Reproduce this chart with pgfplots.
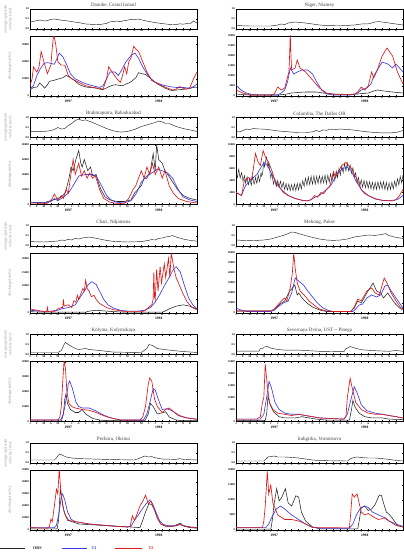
\documentclass[border=0pt]{standalone}
\usepackage{pgfplots}
\pgfplotsset{compat=1.18}
\usepackage{fontspec}
\setmainfont{Liberation Serif}
\definecolor{tobs}{RGB}{35,35,35}
\definecolor{tblue}{RGB}{60,60,230}
\definecolor{tred}{RGB}{220,25,25}
\definecolor{lab}{RGB}{150,150,150}
\pgfplotsset{
  base/.style={scale only axis, width=167pt, xmin=0, xmax=24, anchor=north west,
    axis line style={line width=0.6pt}, tick style={line width=0.35pt, black},
    major tick length=1.3pt, tick align=inside,
    xtick={0,...,23}, xticklabels={J,F,M,A,M,J,J,A,S,O,N,D,J,F,M,A,M,J,J,A,S,O,N,D},
    ticklabel style={font=\fontsize{2.8}{3}\selectfont\bfseries, inner sep=0.8pt},
    /pgf/number format/assume math mode=true,
    title style={font=\fontsize{5}{6}\selectfont, text=black!75, inner sep=1.5pt, yshift=-6pt},
    clip mode=individual},
  vel/.style={base, height=20pt, ymin=0, ymax=1, ytick={0,0.5,1}, yticklabels={0.0,0.5,1.0}},
  dis/.style={base, height=60pt, ymin=0, scaled y ticks=false,
    yticklabel style={/pgf/number format/.cd, fixed, 1000 sep={}},
    extra x ticks={5.5,18.5}, extra x tick labels={1997,1998},
    extra x tick style={major tick length=0pt, ticklabel style={yshift=-3.2pt, font=\fontsize{3.6}{4}\selectfont\bfseries}}},
  vlab/.style={ylabel={average upstream\\velocity (m/s)}, ylabel style={at={(axis description cs:-0.13,0.5)}, anchor=center, align=center, font=\fontsize{4}{4.6}\selectfont, text=lab}},
  dlab/.style={ylabel={discharge (m3/s)}, ylabel style={at={(axis description cs:-0.12,0.5)}, anchor=center, font=\fontsize{4}{4.6}\selectfont, text=lab}},
  obs/.style={tobs, line width=0.55pt, no marks},
  tone/.style={tblue, line width=0.65pt, no marks},
  ttwo/.style={tred, line width=0.65pt, no marks},
  vline/.style={tobs, line width=0.45pt, no marks},
}
\begin{document}
\begin{tikzpicture}
\path[use as bounding box] (0pt,0pt) rectangle (404pt,-554pt);

% ===== Row 1 left: Danube
\begin{axis}[vel, vlab, at={(30pt,-9pt)}, title={Danube, Ceatal Izmail}]
\addplot[vline] coordinates {(0,0.35)(0.5,0.38)(1,0.42)(1.5,0.45)(2,0.4)(2.5,0.42)(3,0.48)(3.5,0.5)(4,0.47)(4.5,0.44)(5,0.42)(5.5,0.4)(6,0.37)(7,0.32)(8,0.25)(9,0.23)(10,0.22)(11,0.28)(11.5,0.36)(12,0.37)(12.5,0.4)(13,0.36)(13.5,0.42)(14,0.44)(14.5,0.48)(15,0.46)(15.5,0.5)(16,0.46)(16.5,0.42)(17,0.38)(18,0.32)(19,0.27)(20,0.23)(21,0.22)(21.5,0.26)(22,0.24)(22.5,0.27)(23,0.26)(23.5,0.4)(24,0.3)};
\end{axis}
\begin{axis}[dis, dlab, at={(30pt,-36pt)}, ymax=35000, ytick={0,10000,20000,30000}]
\addplot[obs] coordinates {(0,3600)(0.5,5000)(1,5200)(1.4,7600)(1.8,6000)(2.1,4600)(2.5,6500)(2.8,8600)(3.3,9000)(3.8,9600)(4.3,10200)(4.7,10600)(5.2,12000)(5.7,11000)(6.2,9600)(6.7,8000)(7.1,6600)(7.6,5800)(8.1,5200)(8.8,4900)(9.5,4600)(10.4,3600)(10.9,4500)(11.4,5600)(11.9,6300)(12.3,6600)(12.8,6200)(13.3,6000)(13.8,7000)(14.2,7600)(14.6,8600)(15.2,10600)(15.6,13600)(16.1,13000)(16.6,12600)(17.1,11000)(17.5,9600)(18,8000)(18.5,6600)(19,5500)(19.4,4600)(19.9,3800)(20.4,3200)(21.3,3600)(22.3,4000)(23,4500)(23.7,5200)(24,5000)};
\addplot[tone] coordinates {(0,4000)(0.5,6000)(1,12000)(1.5,16000)(2,19000)(2.5,19500)(3,19000)(3.5,18500)(3.9,22000)(4.2,25000)(4.7,23000)(5.3,18000)(5.8,13000)(6.5,10000)(7.5,8000)(8.5,6500)(9.5,5500)(10,5000)(10.5,6000)(11,10000)(11.5,14000)(12.2,14000)(12.7,12000)(13,14000)(13.8,20000)(14.6,24000)(15.1,25000)(15.6,22000)(16.2,17000)(16.8,13000)(17.4,10000)(18,8000)(19,6500)(20,5500)(21,5000)(22,5000)(23,4500)(23.5,5500)(24,7000)};
\addplot[ttwo] coordinates {(0,6000)(0.3,10000)(0.5,17000)(0.8,15000)(1,14000)(1.3,17000)(1.6,26000)(2,20000)(2.5,13000)(3,18000)(3.2,28000)(3.4,36000)(3.7,30000)(4,20000)(4.5,18000)(5,18000)(5.5,12000)(6,10000)(7,8000)(8,6000)(9,5000)(10,4500)(10.5,4000)(11,10000)(11.3,17000)(11.8,14000)(12.5,10000)(13,8000)(13.3,12000)(13.6,17000)(13.9,13000)(14.2,20000)(14.5,22000)(14.9,29000)(15.3,27000)(15.6,26000)(16.2,20000)(16.8,14000)(17.5,9000)(18.5,7000)(19.5,5000)(20.5,3500)(21,4000)(21.5,5500)(22,4500)(22.5,4000)(23,5000)(23.5,10000)(24,14000)};
\end{axis}

% ===== Row 1 right: Niger
\begin{axis}[vel, at={(236pt,-9pt)}, title={Niger, Niamey}]
\addplot[vline] coordinates {(0,0.18)(1,0.16)(2,0.15)(5,0.15)(6,0.2)(6.5,0.25)(7,0.22)(7.5,0.3)(8,0.33)(8.5,0.35)(9,0.33)(10,0.3)(11,0.25)(12,0.2)(13,0.17)(15,0.16)(16,0.18)(17,0.2)(18,0.25)(19,0.26)(19.5,0.3)(20,0.35)(20.5,0.37)(21,0.35)(22,0.3)(23,0.25)(24,0.2)};
\end{axis}
\begin{axis}[dis, at={(236pt,-36pt)}, ymax=30000, ytick={0,5000,...,30000}]
\addplot[obs] coordinates {(0,1000)(1,700)(2,500)(6,500)(7,800)(8,1500)(9,1800)(10,2000)(11.5,2000)(12.5,1500)(14,1000)(16,800)(17.5,1000)(19,1500)(19.8,2500)(20.3,3000)(21,2600)(22,2200)(23,1800)(24,1500)};
\addplot[tone] coordinates {(0,5500)(0.7,3000)(1.5,1500)(2.5,600)(6,500)(6.5,1500)(7,3000)(7.4,7000)(7.8,14000)(8.3,11000)(8.8,12000)(9.5,13000)(10.3,13000)(11,11000)(11.6,7000)(12.3,3000)(13,1000)(14,500)(16.5,500)(17.5,1500)(18,3000)(18.8,4000)(19.4,6000)(19.8,10000)(20.5,14000)(21,17000)(21.8,16000)(22.5,14000)(23,16000)(24,12000)};
\addplot[ttwo] coordinates {(0,3000)(1,1500)(2,500)(5,500)(5.5,1000)(6,4500)(6.5,3000)(7,4000)(7.3,8000)(7.6,12000)(7.7,20000)(7.8,31000)(7.9,20000)(8.0,13000)(8.5,14000)(8.8,18000)(9.2,14000)(10,12000)(11,8000)(12,4000)(13,1500)(14,800)(17,800)(17.5,2000)(18,4500)(18.5,3000)(19,5000)(19.5,12000)(19.8,9000)(20.3,13000)(21,20000)(21.7,24000)(22.5,20000)(23.2,12000)(24,6000)};
\end{axis}

% ===== Row 2 left: Brahmaputra
\begin{axis}[vel, vlab, at={(30pt,-117.5pt)}, title={Brahmaputra, Bahadurabad}]
\addplot[vline] coordinates {(0,0.3)(1,0.29)(2,0.3)(3,0.35)(3.5,0.4)(4,0.5)(4.5,0.42)(5,0.45)(5.5,0.6)(6,0.7)(6.5,0.85)(7,0.92)(7.5,0.85)(8,0.88)(9,0.75)(10,0.6)(11,0.45)(12,0.33)(13,0.27)(14,0.3)(15,0.4)(16,0.55)(16.5,0.6)(17,0.65)(17.5,0.7)(18,0.75)(18.5,0.82)(19,0.78)(19.5,0.7)(20,0.7)(21,0.55)(22,0.45)(23,0.38)(24,0.3)};
\end{axis}
\begin{axis}[dis, dlab, at={(30pt,-144.5pt)}, ymax=80000, ytick={0,20000,...,80000}]
\addplot[obs] coordinates {(0,3000)(1,2800)(2,2500)(3,5000)(3.5,6600)(4,8000)(4.5,10000)(5,15000)(5.2,20000)(5.6,35000)(5.9,50000)(6.2,45000)(6.6,60000)(7,72000)(7.3,55000)(7.5,50000)(7.8,60000)(8.3,45000)(8.7,50000)(9,38000)(9.5,40000)(9.8,30000)(10.2,20000)(10.8,10000)(11.5,6000)(12.5,4000)(13.5,4000)(14.5,6000)(15,15000)(15.5,20000)(16,25000)(16.4,35000)(16.8,35000)(17.3,45000)(17.7,68000)(18,45000)(18.2,80000)(18.5,60000)(19,55000)(19.4,45000)(19.8,40000)(20.5,30000)(21.2,20000)(22,12000)(23,8000)(24,6000)};
\addplot[tone] coordinates {(0,3000)(2,2000)(3,4000)(3.5,8000)(4,5000)(4.5,8000)(5.5,15000)(6.2,25000)(7,38000)(8,40000)(9,40000)(9.5,38000)(10.3,25000)(11,12000)(11.8,5000)(12.5,3000)(13.5,2000)(14.5,5000)(15.3,15000)(16,30000)(16.8,38000)(17.5,42000)(18.3,47000)(19,45000)(19.8,42000)(20.5,35000)(21.3,20000)(22,10000)(23,6000)(24,4000)};
\addplot[ttwo] coordinates {(0,2000)(1,1800)(2.5,1500)(3.2,8000)(3.5,14000)(4,6000)(4.5,12000)(4.8,8000)(5.2,20000)(5.5,15000)(5.8,35000)(6.2,60000)(6.5,40000)(7,55000)(7.4,38000)(7.8,45000)(8.2,35000)(8.6,42000)(9,35000)(9.4,38000)(10,20000)(10.6,8000)(11.5,3000)(12.5,1500)(13.5,1500)(14.2,8000)(14.8,20000)(15.2,25000)(15.6,35000)(16,45000)(16.4,35000)(16.8,50000)(17.2,40000)(17.6,55000)(18,40000)(18.5,50000)(19,35000)(19.4,45000)(20,25000)(20.6,15000)(21.3,8000)(22.5,4000)(24,2000)};
\end{axis}

% ===== Row 2 right: Columbia
\begin{axis}[vel, at={(236pt,-117.5pt)}, title={Columbia, The Dalles OR}]
\addplot[vline] coordinates {(0,0.3)(0.5,0.28)(1,0.35)(1.5,0.42)(2,0.4)(2.5,0.45)(3,0.43)(4,0.42)(5,0.38)(6,0.33)(7,0.3)(8,0.27)(9,0.25)(10,0.25)(11,0.28)(11.5,0.35)(12,0.3)(12.5,0.38)(13,0.36)(13.5,0.42)(14,0.4)(15,0.42)(16,0.4)(17,0.37)(18,0.32)(19,0.28)(20,0.25)(21,0.23)(22,0.23)(23,0.25)(23.5,0.3)(24,0.35)};
\end{axis}
\begin{axis}[dis, at={(236pt,-144.5pt)}, ymax=10000, ytick={0,2000,...,10000}]
\addplot[obs, line width=0.45pt] coordinates {(0.0,5600)(0.1,4800)(0.2,4500)(0.3,5400)(0.4,5900)(0.5,5000)(0.6,4400)(0.7,4900)(0.8,5300)(0.9,4700)(1.0,3900)(1.1,4300)(1.2,4800)(1.3,4100)(1.4,3500)(1.5,4200)(1.6,4600)(1.7,3700)(1.8,3300)(1.9,3900)(2.0,4400)(2.1,3600)(2.2,3200)(2.3,4100)(2.4,4700)(2.5,3900)(2.6,3400)(2.7,3800)(2.8,4500)(2.9,4000)(3.0,3500)(3.1,4300)(3.2,4900)(3.3,4200)(3.4,3800)(3.5,4600)(3.6,5300)(3.7,4700)(3.8,5000)(3.9,6100)(4.0,7000)(4.1,6300)(4.2,6800)(4.3,7600)(4.4,7900)(4.5,6900)(4.6,6200)(4.7,6900)(4.8,6300)(4.9,5200)(5.0,4400)(5.1,5000)(5.2,4900)(5.3,4000)(5.4,3400)(5.5,3900)(5.6,4200)(5.7,3500)(5.8,3000)(5.9,3600)(6.0,4000)(6.1,3300)(6.2,2900)(6.3,3500)(6.4,3900)(6.5,3200)(6.6,2800)(6.7,3300)(6.8,3700)(6.9,3000)(7.0,2500)(7.1,3100)(7.2,3500)(7.3,2800)(7.4,2400)(7.5,3000)(7.6,3400)(7.7,2700)(7.8,2300)(7.9,2900)(8.0,3300)(8.1,2700)(8.2,2300)(8.3,2900)(8.4,3400)(8.5,2800)(8.6,2300)(8.7,3000)(8.8,3500)(8.9,2900)(9.0,2400)(9.1,3100)(9.2,3600)(9.3,3000)(9.4,2600)(9.5,3400)(9.6,4000)(9.7,3400)(9.8,3000)(9.9,3800)(10.0,4400)(10.1,3700)(10.2,3200)(10.3,4000)(10.4,4600)(10.5,3800)(10.6,3300)(10.7,4100)(10.8,4700)(10.9,3900)(11.0,3400)(11.1,4200)(11.2,4800)(11.3,4000)(11.4,3400)(11.5,4100)(11.6,4700)(11.7,4000)(11.8,3500)(11.9,4300)(12.0,4800)(12.1,4100)(12.2,3500)(12.3,4200)(12.4,4700)(12.5,4000)(12.6,3600)(12.7,4400)(12.8,4900)(12.9,4100)(13.0,3500)(13.1,4300)(13.2,4900)(13.3,4200)(13.4,3700)(13.5,4500)(13.6,5100)(13.7,4400)(13.8,3800)(13.9,4600)(14.0,5200)(14.1,4500)(14.2,4000)(14.3,4900)(14.4,5600)(14.5,5000)(14.6,4500)(14.7,5300)(14.8,6000)(14.9,5400)(15.0,4900)(15.1,5700)(15.2,6400)(15.3,5800)(15.4,5300)(15.5,6100)(15.6,6800)(15.7,6200)(15.8,5600)(15.9,6300)(16.0,6900)(16.1,6200)(16.2,5600)(16.3,6100)(16.4,6600)(16.5,5900)(16.6,5200)(16.7,5700)(16.8,6100)(16.9,5300)(17.0,4600)(17.1,5000)(17.2,5300)(17.3,4400)(17.4,3600)(17.5,4100)(17.6,4500)(17.7,3800)(17.8,3100)(17.9,3600)(18.0,4100)(18.1,3500)(18.2,2900)(18.3,3500)(18.4,4000)(18.5,3400)(18.6,2800)(18.7,3400)(18.8,3900)(18.9,3300)(19.0,2700)(19.1,3300)(19.2,3800)(19.3,3200)(19.4,2600)(19.5,3200)(19.6,3700)(19.7,3100)(19.8,2500)(19.9,3100)(20.0,3700)(20.1,3100)(20.2,2500)(20.3,3200)(20.4,3800)(20.5,3200)(20.6,2600)(20.7,3200)(20.8,3800)(20.9,3200)(21.0,2600)(21.1,3200)(21.2,3800)(21.3,3100)(21.4,2500)(21.5,3100)(21.6,3700)(21.7,3000)(21.8,2400)(21.9,3000)(22.0,3600)(22.1,3100)(22.2,2500)(22.3,3100)(22.4,3700)(22.5,3100)(22.6,2600)(22.7,3300)(22.8,3900)(22.9,3400)(23.0,2900)(23.1,3600)(23.2,4300)(23.3,3800)(23.4,3300)(23.5,4000)(23.6,4700)(23.7,4100)(23.8,3600)(23.9,4300)(24.0,4900)};
\addplot[tone] coordinates {(0,2000)(0.8,1500)(1.3,3000)(2,4000)(2.5,4500)(3,5000)(3.5,6000)(4,7000)(4.5,6500)(5.2,5000)(5.8,3500)(6.5,2500)(7.5,1500)(8.5,1000)(9.5,700)(10.2,600)(10.8,800)(11.3,1200)(12,1500)(12.5,2000)(13,2500)(13.8,3500)(14.5,5000)(15.3,6000)(16,6200)(16.6,5500)(17.2,4000)(18,2500)(19,1500)(20,900)(21,700)(22.5,600)(23.3,900)(24,1500)};
\addplot[ttwo] coordinates {(0,2000)(0.8,1500)(1.2,4000)(1.8,4500)(2.2,4000)(2.5,6000)(2.8,8500)(3.2,7000)(3.5,6500)(3.9,9000)(4.2,8000)(4.7,7000)(5.2,5500)(5.6,4000)(6.2,3000)(6.8,2000)(7.5,1500)(8.5,1000)(9.5,700)(10.2,600)(10.8,800)(11.3,1500)(11.7,1200)(12.2,2000)(12.6,1800)(13,2500)(13.5,3000)(14,5500)(14.3,4500)(14.7,5500)(15.2,6500)(15.8,7000)(16.2,6500)(16.6,6000)(17,5000)(17.5,4000)(18,2500)(18.5,1800)(19,1500)(20,1000)(21,700)(22,600)(23,800)(23.5,1500)(24,2500)};
\end{axis}

% ===== Row 3 left: Chari
\begin{axis}[vel, vlab, at={(30pt,-226pt)}, title={Chari, Ndjamena}]
\addplot[vline] coordinates {(0,0.22)(2,0.2)(3,0.22)(4,0.25)(4.5,0.3)(5,0.28)(5.5,0.33)(6,0.3)(6.5,0.38)(7,0.35)(7.5,0.4)(8,0.42)(8.5,0.45)(9,0.42)(10,0.35)(11,0.28)(12,0.23)(14,0.2)(16,0.22)(17,0.28)(17.5,0.32)(18,0.3)(18.5,0.38)(19,0.4)(19.5,0.45)(20,0.48)(20.5,0.52)(21,0.45)(22,0.35)(23,0.28)(24,0.24)};
\end{axis}
\begin{axis}[dis, dlab, at={(30pt,-253pt)}, ymax=22000, ytick={0,5000,...,20000}]
\addplot[obs] coordinates {(0,500)(2,300)(8,300)(8.5,700)(9.5,1000)(10.5,800)(12,500)(14,300)(19,300)(19.5,800)(20,1500)(21,2500)(22,3000)(23,2500)(24,1500)};
\addplot[tone] coordinates {(0,1000)(1,800)(2,600)(3,700)(4,1000)(4.5,1500)(5.5,2000)(6.5,3000)(7,5000)(7.8,8000)(8.4,10500)(8.9,11500)(9.5,10500)(10,8000)(10.6,5000)(11.2,3000)(12,1800)(13,1000)(14,700)(15.5,700)(16.5,1000)(17.3,2000)(18,4000)(18.7,7000)(19.3,10000)(20,13000)(20.6,16000)(21,17000)(21.6,15000)(22.2,10000)(22.8,5500)(23.4,3000)(24,1500)};
\addplot[ttwo] coordinates {(0,1500)(1,1000)(2,500)(2.4,500)(2.5,2000)(2.6,500)(3.5,500)(4,1500)(4.5,2000)(4.7,2000)(4.8,5000)(4.9,2500)(5.5,3000)(6,2000)(6.3,4500)(6.6,4000)(6.8,6500)(7,5000)(7.3,7000)(7.6,9000)(7.8,8000)(8.0,12000)(8.2,9000)(8.5,8000)(8.8,6000)(9.2,6500)(9.5,5000)(10,3500)(11,2000)(12,1200)(13,800)(14,500)(16,500)(16.5,800)(17,2000)(17.5,3000)(17.7,5000)(17.8,15000)(17.9,6000)(18.0,5000)(18.2,16000)(18.4,8000)(18.7,17000)(18.9,11000)(19.3,18000)(19.5,13000)(19.9,20000)(20.1,13000)(20.3,22000)(20.5,19000)(20.7,16000)(21,13000)(21.5,10000)(22,7000)(22.6,4000)(23.3,2000)(24,1200)};
\end{axis}

% ===== Row 3 right: Mekong
\begin{axis}[vel, at={(236pt,-226pt)}, title={Mekong, Pakse}]
\addplot[vline] coordinates {(0,0.3)(1,0.28)(2,0.27)(3,0.28)(4,0.3)(5,0.35)(6,0.45)(7,0.55)(7.5,0.62)(8,0.7)(8.5,0.68)(9,0.62)(10,0.52)(11,0.43)(12,0.35)(13,0.3)(14,0.28)(15,0.3)(16,0.35)(17,0.45)(18,0.5)(19,0.55)(20,0.53)(21,0.58)(21.5,0.62)(22,0.52)(23,0.43)(24,0.38)};
\end{axis}
\begin{axis}[dis, at={(236pt,-253pt)}, ymax=60000, ytick={0,10000,...,60000}]
\addplot[obs] coordinates {(0,2000)(5,2000)(5.5,3000)(6,7000)(6.5,10000)(7,12000)(7.7,22000)(8,24000)(8.45,28000)(8.8,18000)(9,20000)(9.5,15000)(10.2,10000)(11,6000)(12,3000)(13,1500)(16.5,1500)(17,5000)(17.5,12000)(18,10000)(18.8,20000)(19.7,30000)(20.2,22000)(20.8,20000)(21.2,15000)(21.8,20000)(22.3,15000)(22.8,10000)(23.5,5000)(24,3000)};
\addplot[tone] coordinates {(0,5000)(0.7,3000)(1.5,1500)(5,1500)(5.5,3000)(6,6000)(6.8,10000)(7.5,12000)(8,20000)(8.5,35000)(9,32000)(9.7,28000)(10.3,22000)(11,16000)(11.7,10000)(12.5,5000)(13.3,2500)(14,1500)(16.8,1500)(17.2,4000)(17.7,8000)(18.2,9000)(18.8,15000)(19.5,18000)(20.2,16000)(20.8,18000)(21.4,27000)(21.8,28000)(22.3,22000)(23,15000)(23.7,8000)(24,5000)};
\addplot[ttwo] coordinates {(0,2000)(5,2000)(5.5,4000)(6,8000)(6.5,12000)(7,15000)(7.3,12000)(7.8,25000)(8.1,40000)(8.3,60000)(8.5,45000)(8.8,30000)(9.2,22000)(9.8,18000)(10.5,12000)(11.2,8000)(12,4000)(13,2000)(14,1500)(16.5,1500)(17,6000)(17.5,14000)(18,12000)(18.8,22000)(19.5,25000)(20,20000)(20.6,18000)(21.3,35000)(21.7,30000)(22.3,20000)(23,12000)(23.6,6000)(24,4000)};
\end{axis}

% ===== Row 4 left: Kolyma
\begin{axis}[vel, vlab, at={(30pt,-334.5pt)}, title={Kolyma, Kolymskaya}]
\addplot[vline] coordinates {(0,0.1)(4,0.1)(4.5,0.2)(4.9,0.5)(5.1,0.6)(5.5,0.5)(6.5,0.3)(7,0.25)(8,0.3)(8.5,0.25)(10,0.2)(12,0.12)(16,0.1)(16.8,0.3)(17.1,0.5)(17.6,0.45)(18.3,0.3)(19.3,0.25)(20.5,0.2)(22,0.15)(24,0.1)};
\end{axis}
\begin{axis}[dis, dlab, at={(30pt,-361.5pt)}, ymax=40000, ytick={0,10000,...,40000}]
\addplot[obs] coordinates {(0,300)(4.5,300)(4.8,5000)(5.0,15000)(5.15,18000)(5.4,12000)(5.8,8000)(6.5,6000)(7,6000)(7.5,8000)(8,5000)(9,2000)(10,1000)(11,500)(16.5,500)(17,5000)(17.3,12000)(17.7,10000)(18.3,5000)(19.2,6000)(19.5,6500)(20,3000)(21,1000)(22,500)(24,500)};
\addplot[tone] coordinates {(0,1000)(4.4,1000)(4.8,5000)(5.2,15000)(5.5,25000)(5.7,27000)(6.1,22000)(6.6,13000)(7,10000)(7.5,9000)(8.5,9000)(9.5,7000)(10.5,4500)(11.5,2500)(12.5,1500)(13,1000)(16.3,1000)(16.8,5000)(17.3,14000)(17.7,22000)(18,21000)(18.5,14000)(19,8000)(19.7,8500)(20.5,7000)(21.3,4000)(22.3,2500)(24,1500)};
\addplot[ttwo] coordinates {(0,1000)(4,1000)(4.3,3000)(4.5,10000)(4.75,30000)(4.9,41000)(5.1,35000)(5.3,20000)(5.6,12000)(6,10000)(6.5,9000)(7,8500)(7.5,8000)(8.5,7500)(9.5,6000)(10.5,4000)(11.5,2500)(12.5,1500)(13,1000)(15.8,1000)(16.2,3000)(16.6,10000)(17,25000)(17.2,29000)(17.5,27000)(17.9,15000)(18.3,10000)(19,6000)(19.5,8000)(20,9000)(20.8,6000)(21.5,4000)(22.5,2500)(24,1500)};
\end{axis}

% ===== Row 4 right: Severnaya Dvina
\begin{axis}[vel, at={(236pt,-334.5pt)}, title={Severnaya Dvina, UST$-$Pinega}]
\addplot[vline] coordinates {(0,0.17)(3.3,0.17)(3.5,0.3)(3.8,0.28)(4.1,0.38)(4.5,0.4)(5,0.32)(6,0.25)(7,0.22)(8,0.22)(9,0.22)(10,0.2)(12,0.16)(15.5,0.14)(15.8,0.3)(16.1,0.33)(16.4,0.4)(17,0.33)(18,0.24)(20,0.19)(22,0.16)(23,0.2)(24,0.16)};
\end{axis}
\begin{axis}[dis, at={(236pt,-361.5pt)}, ymax=25000, ytick={0,5000,...,25000}]
\addplot[obs] coordinates {(0,500)(4.2,500)(4.4,3000)(4.6,10500)(4.9,7000)(5.4,4000)(6.2,2000)(7,1500)(8.5,1500)(9.5,2000)(10.5,1500)(11.5,1000)(13,600)(16.3,600)(16.6,5000)(16.8,8800)(17.1,6000)(17.7,3500)(18.5,2000)(19.5,1500)(21,1500)(22,1000)(24,800)};
\addplot[tone] coordinates {(0,1000)(3.5,1000)(4,3000)(4.4,10000)(4.75,16700)(5.1,14000)(5.6,8000)(6.2,5000)(7,3500)(8,3000)(9,3000)(10,2500)(11,2000)(12,1500)(14,1200)(15.5,1000)(16,3000)(16.5,9000)(17,14500)(17.4,12000)(18,7000)(18.8,4500)(20,3500)(21,3000)(22,2500)(23,2000)(24,1500)};
\addplot[ttwo] coordinates {(0,1000)(3,1000)(3.5,2000)(3.8,8000)(4.0,10000)(4.2,24000)(4.5,15000)(4.8,8000)(5.3,5000)(6,3500)(7,3000)(8,2500)(9,3000)(10,2500)(11,2000)(12,1500)(14,1200)(15.5,1000)(15.8,2000)(16.0,10000)(16.2,14000)(16.4,18000)(16.7,14000)(17.2,8000)(18,5000)(19,3500)(20,3000)(21,3000)(22,2500)(23,2000)(24,1500)};
\end{axis}

% ===== Row 5 left: Pechora
\begin{axis}[vel, vlab, at={(30pt,-443pt)}, title={Pechora, Oksino}]
\addplot[vline] coordinates {(0,0.15)(3.5,0.15)(3.8,0.25)(4.1,0.4)(4.3,0.45)(4.7,0.38)(5.2,0.3)(6,0.25)(7,0.22)(9,0.2)(12,0.17)(15,0.15)(15.6,0.22)(16,0.28)(16.5,0.35)(17,0.3)(17.5,0.32)(18,0.26)(19,0.2)(21,0.18)(21.5,0.22)(22,0.18)(24,0.15)};
\end{axis}
\begin{axis}[dis, dlab, at={(30pt,-470pt)}, ymax=50000, ytick={0,10000,...,50000}]
\addplot[obs] coordinates {(0,1000)(3.9,1000)(4.1,8000)(4.35,34000)(4.6,25000)(4.9,15000)(5.4,8000)(6,7000)(7,5000)(8.5,4500)(10,4000)(11.5,3500)(13,3000)(14.5,2500)(15.8,2000)(16.2,8000)(16.6,15000)(17.1,22000)(17.5,21000)(17.9,17000)(18.3,10000)(18.8,5000)(19.5,3000)(20.5,3000)(21.3,5000)(21.6,5500)(22.2,3000)(23,2000)(24,1500)};
\addplot[tone] coordinates {(0,2000)(3.5,2000)(3.8,4000)(4.2,15000)(4.5,28000)(4.7,30000)(5.0,25000)(5.4,15000)(5.9,9000)(6.5,7000)(7.5,6000)(8.5,5000)(9.5,4500)(10.5,4000)(11.5,3500)(12.5,3000)(14,2500)(14.5,3000)(15,8000)(15.5,12000)(16.2,18000)(16.7,22000)(17.2,25000)(17.6,22000)(18.1,15000)(18.6,8000)(19.2,4500)(20,3500)(21,3500)(21.5,4500)(22.2,3500)(23,2500)(24,2000)};
\addplot[ttwo] coordinates {(0,2000)(2.5,1500)(2.8,3000)(3.0,9000)(3.2,7000)(3.5,20000)(3.8,34000)(4.0,30000)(4.2,51000)(4.4,35000)(4.7,20000)(5.1,12000)(5.6,8000)(6.5,7000)(7.5,6000)(8.5,5000)(9.5,4500)(10.5,4000)(11.5,3500)(12.5,3000)(14,2500)(14.4,3000)(14.7,12000)(15,8000)(15.3,12000)(15.8,20000)(16.3,25000)(16.6,29000)(17,22000)(17.4,24000)(17.8,18000)(18.3,10000)(18.8,5000)(19.5,3500)(20.5,3000)(21.2,4000)(21.5,5000)(22,3500)(23,2500)(24,2000)};
% legend (text row with coloured rules)
\node[anchor=west, inner sep=0pt, font=\fontsize{4.2}{5}\selectfont\bfseries] at (axis description cs:0,0) [xshift=-30pt, yshift=-18pt]
  {\textcolor{tobs}{\rule[0.5ex]{25pt}{0.7pt}}\hspace{8pt}\textcolor{tobs}{OBS}\hspace{20pt}\textcolor{tblue}{\rule[0.5ex]{25pt}{0.85pt}}\hspace{5pt}\textcolor{tblue}{T1}\hspace{18pt}\textcolor{tred}{\rule[0.5ex]{27pt}{0.85pt}}\hspace{7pt}\textcolor{tred}{T2}};
\end{axis}

% ===== Row 5 right: Indigirka
\begin{axis}[vel, at={(236pt,-443pt)}, title={Indigirka, Vorontsovo}]
\addplot[vline] coordinates {(0,0.1)(4,0.1)(4.3,0.2)(4.6,0.3)(5,0.32)(5.5,0.35)(6,0.3)(7,0.3)(8,0.28)(9,0.25)(10,0.2)(11,0.15)(12,0.12)(16,0.1)(16.5,0.22)(17,0.28)(17.5,0.3)(18,0.27)(19,0.25)(20,0.25)(21,0.22)(22,0.18)(23,0.13)(24,0.1)};
\end{axis}
\begin{axis}[dis, at={(236pt,-470pt)}, ymax=20000, ytick={0,5000,...,20000}]
\addplot[obs] coordinates {(0,300)(5,300)(5.2,3000)(5.5,9000)(5.85,13800)(6.2,9700)(6.6,11000)(7.1,13800)(7.5,9000)(8,8000)(8.6,11400)(9,11000)(9.4,6000)(10,3000)(11,1000)(12,400)(17.5,400)(17.7,3000)(18,7500)(18.5,8000)(19,6500)(19.5,7000)(20,8500)(20.6,11700)(20.9,11500)(21.2,9000)(21.6,6000)(22.1,5000)(22.6,3500)(23.2,1500)(24,1000)};
\addplot[tone] coordinates {(0,800)(4.3,800)(4.7,2000)(5.2,4500)(5.8,7000)(6.4,8000)(7,7000)(7.5,6000)(8,5000)(9,3500)(10,2000)(11,1000)(12,600)(16.3,600)(16.8,2000)(17.3,5000)(17.8,7000)(18.5,8000)(19,7500)(19.6,6000)(20.5,5000)(21,4500)(21.5,4000)(22,3000)(23,2000)(24,1200)};
\addplot[ttwo] coordinates {(0,800)(3.8,800)(4.0,3000)(4.2,8000)(4.5,19500)(4.7,12000)(5.0,15000)(5.3,9000)(6,5000)(7,3500)(8,3500)(9,3000)(10,2000)(11,800)(16.3,700)(16.5,6000)(16.7,12000)(17,11000)(17.4,12000)(17.7,9000)(18,6000)(18.5,5000)(19,5500)(20,4000)(20.5,3500)(21.3,4000)(22,3000)(23,1500)(24,1000)};
\end{axis}
\end{tikzpicture}
\end{document}
